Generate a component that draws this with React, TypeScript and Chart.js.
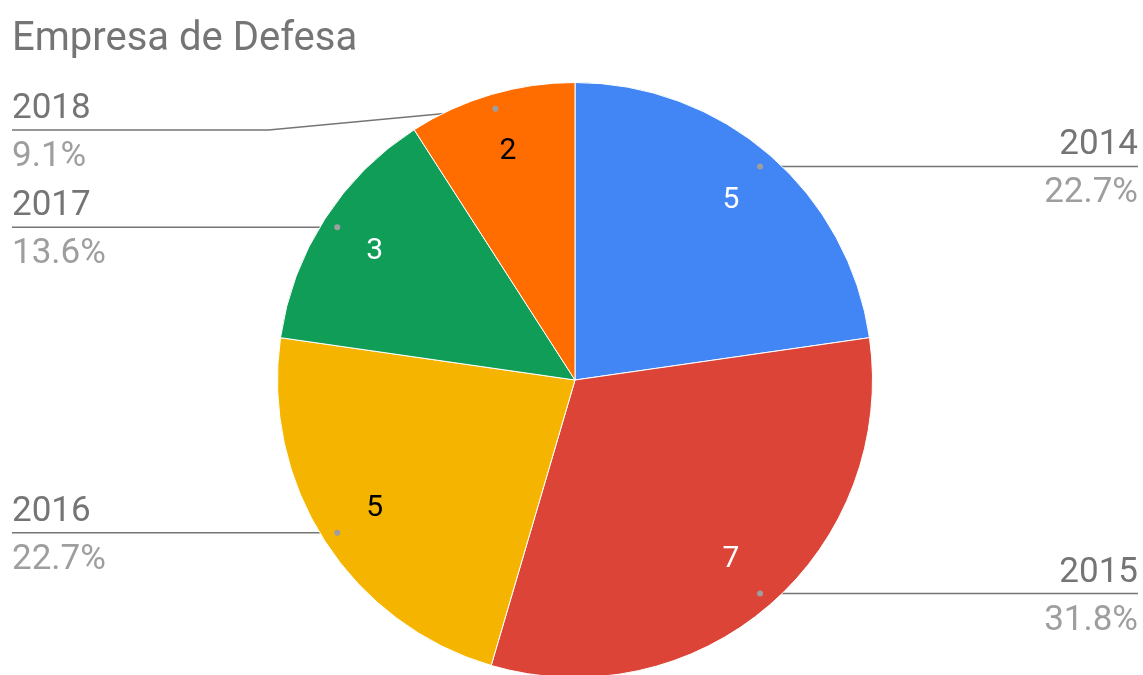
import React, { useEffect, useRef } from "react";
import { Chart, registerables } from "chart.js";

Chart.register(...registerables);

const TITLE = "Empresa de Defesa";
const categories = ["2014", "2015", "2016", "2017", "2018"];
const values = [5, 7, 5, 3, 2];
const colors = ["#4285F4", "#DB4437", "#F4B400", "#0F9D58", "#FF6D00"];
const valueTextColors = ["#FFFFFF", "#FFFFFF", "#000000", "#FFFFFF", "#000000"];

const FONT = "Roboto, 'Noto Sans', sans-serif";

const labelPlugin = {
  id: "googleLabels",
  beforeDatasetsDraw(chart: any) {
    const ctx = chart.ctx;
    const meta = chart.getDatasetMeta(0);
    const total = values.reduce((a, b) => a + b, 0);
    const W = chart.width;
    const top = chart.chartArea.top;
    ctx.save();
    // title
    ctx.fillStyle = "#757575";
    ctx.font = `40px ${FONT}`;
    ctx.textAlign = "left";
    ctx.textBaseline = "alphabetic";
    ctx.fillText(TITLE, 12, 50);

    meta.data.forEach((arc: any, i: number) => {
      const p = arc.getProps(["x", "y", "startAngle", "endAngle", "outerRadius"], true);
      const mid = (p.startAngle + p.endAngle) / 2;
      const dr = p.outerRadius * 0.95;
      const dx = p.x + Math.cos(mid) * dr;
      const dy = p.y + Math.sin(mid) * dr;
      const right = Math.cos(mid) >= 0;
      let ly = dy;
      if (ly < top + 48) ly = top + 48;
      ctx.strokeStyle = "#757575";
      ctx.lineWidth = 1.5;
      ctx.beginPath();
      ctx.moveTo(dx, dy);
      if (right) {
        ctx.lineTo(W - 5, ly);
      } else {
        if (ly !== dy) {
          const bx = p.x - p.outerRadius - 9;
          ctx.lineTo(bx, ly);
        }
        ctx.lineTo(12, ly);
      }
      ctx.stroke();
      const pct = ((values[i] / total) * 100).toFixed(1) + "%";
      ctx.font = `35px ${FONT}`;
      ctx.textAlign = right ? "right" : "left";
      const tx = right ? W - 5 : 12;
      ctx.fillStyle = "#757575";
      ctx.fillText(categories[i], tx, ly - 12);
      ctx.fillStyle = "#9E9E9E";
      ctx.fillText(pct, tx, ly + 36);
    });
    ctx.restore();
  },
  afterDatasetsDraw(chart: any) {
    const ctx = chart.ctx;
    const meta = chart.getDatasetMeta(0);
    ctx.save();
    meta.data.forEach((arc: any, i: number) => {
      const p = arc.getProps(["x", "y", "startAngle", "endAngle", "outerRadius"], true);
      const mid = (p.startAngle + p.endAngle) / 2;
      const dr = p.outerRadius * 0.95;
      const dx = p.x + Math.cos(mid) * dr;
      const dy = p.y + Math.sin(mid) * dr;
      ctx.fillStyle = "#9E9E9E";
      ctx.beginPath();
      ctx.arc(dx, dy, 3, 0, Math.PI * 2);
      ctx.fill();
      const vr = p.outerRadius * 0.8;
      const vx = p.x + Math.cos(mid) * vr;
      const vy = p.y + Math.sin(mid) * vr;
      ctx.fillStyle = valueTextColors[i];
      ctx.font = `30px ${FONT}`;
      ctx.textAlign = "center";
      ctx.textBaseline = "middle";
      ctx.fillText(String(values[i]), vx, vy);
    });
    ctx.restore();
  },
};

export default function App() {
  const ref = useRef<HTMLCanvasElement | null>(null);
  useEffect(() => {
    if (!ref.current) return;
    const chart = new Chart(ref.current, {
      type: "pie",
      data: {
        labels: categories,
        datasets: [
          {
            data: values,
            backgroundColor: colors,
            borderColor: "#FFFFFF",
            borderWidth: 1,
          },
        ],
      },
      options: {
        responsive: false,
        animation: false,
        layout: { padding: { left: 277, right: 270, top: 82, bottom: 12 } },
        plugins: {
          legend: { display: false },
          tooltip: { enabled: false },
          title: { display: false },
        },
      },
      plugins: [labelPlugin],
    });
    return () => chart.destroy();
  }, []);
  return (
    <div
      style={{
        position: "fixed",
        left: 0,
        top: 0,
        width: 1143,
        height: 675,
        overflow: "hidden",
        background: "#FFFFFF",
      }}
    >
      <canvas ref={ref} width={1143} height={690} style={{ width: 1143, height: 690, display: "block" }} />
    </div>
  );
}
